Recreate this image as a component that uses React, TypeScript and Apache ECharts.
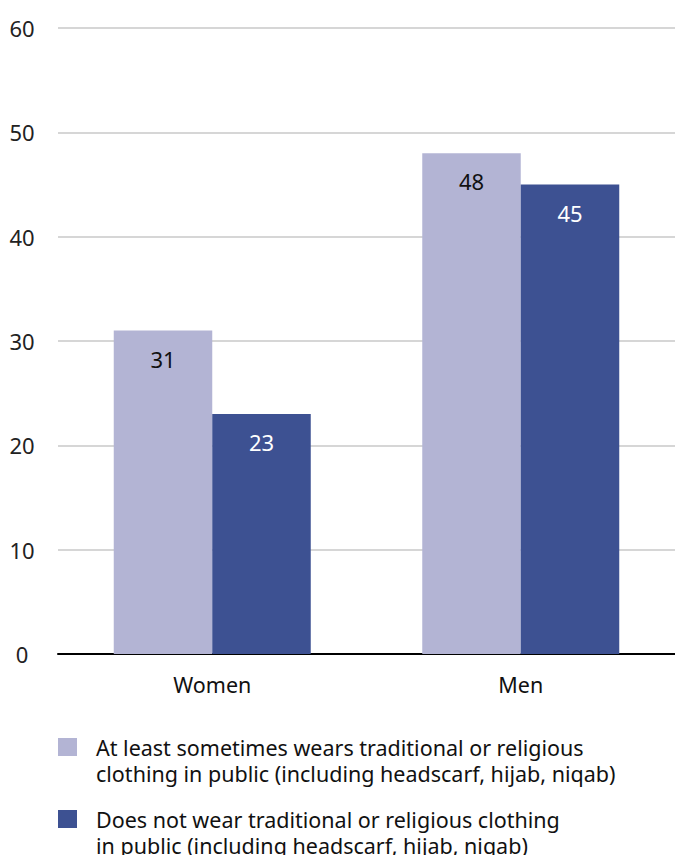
import React, { useEffect, useRef } from "react";
import * as echarts from "echarts";

const categories = ["Women", "Men"];
const wearsValues = [31, 48];
const notWearValues = [23, 45];
const seriesNames = [
  "At least sometimes wears traditional or religious\nclothing in public (including headscarf, hijab, niqab)",
  "Does not wear traditional or religious clothing\nin public (including headscarf, hijab, niqab)",
];
const colors = ["#b3b4d4", "#3d5192"];
const labelColors = ["#111111", "#ffffff"];
const yTicks = { min: 0, max: 60, interval: 10 };

const FONT = "'Noto Sans', sans-serif";

export default function App() {
  const ref = useRef<HTMLDivElement>(null);
  useEffect(() => {
    document.body.style.margin = "0";
    const chart = echarts.init(ref.current!, null, { renderer: "svg" });
    const values = [wearsValues, notWearValues];
    const legendTop = [736, 808];
    chart.setOption({
      animation: false,
      textStyle: { fontFamily: FONT },
      grid: { left: 58, top: 28, width: 623, height: 626, containLabel: false },
      xAxis: {
        type: "category",
        data: categories,
        axisLine: { show: true, lineStyle: { color: "#000", width: 2 } },
        axisTick: { show: false },
        axisLabel: { color: "#111", fontSize: 21.5, margin: 19, fontFamily: FONT },
      },
      yAxis: {
        type: "value",
        min: yTicks.min,
        max: yTicks.max,
        interval: yTicks.interval,
        axisLine: { show: false },
        axisTick: { show: false },
        splitLine: { lineStyle: { color: "#c8c8c8", width: 1.5 } },
        axisLabel: { color: "#222", fontSize: 22, align: "center", margin: 36, fontFamily: FONT },
      },
      series: values.map((v, i) => ({
        type: "bar",
        name: seriesNames[i],
        data: v,
        barWidth: 98.5,
        barGap: "0%",
        itemStyle: { color: colors[i] },
        label: {
          show: true,
          position: "insideTop",
          distance: 17,
          color: labelColors[i],
          fontSize: 22,
          fontFamily: FONT,
        },
      })),
      graphic: seriesNames.flatMap((name, i) => [
        {
          type: "rect",
          left: 58,
          top: legendTop[i] + 2,
          shape: { width: 19, height: 18 },
          style: { fill: colors[i] },
        },
        ...name.split("\n").map((line, j) => ({
          type: "text",
          left: 96,
          top: legendTop[i] + j * 26,
          style: {
            text: line,
            fill: "#111",
            fontSize: 21.5,
            lineHeight: 22,
            fontFamily: FONT,
          },
        })),
      ]),
    });
    return () => chart.dispose();
  }, []);
  return <div ref={ref} style={{ width: 675, height: 855 }} />;
}
